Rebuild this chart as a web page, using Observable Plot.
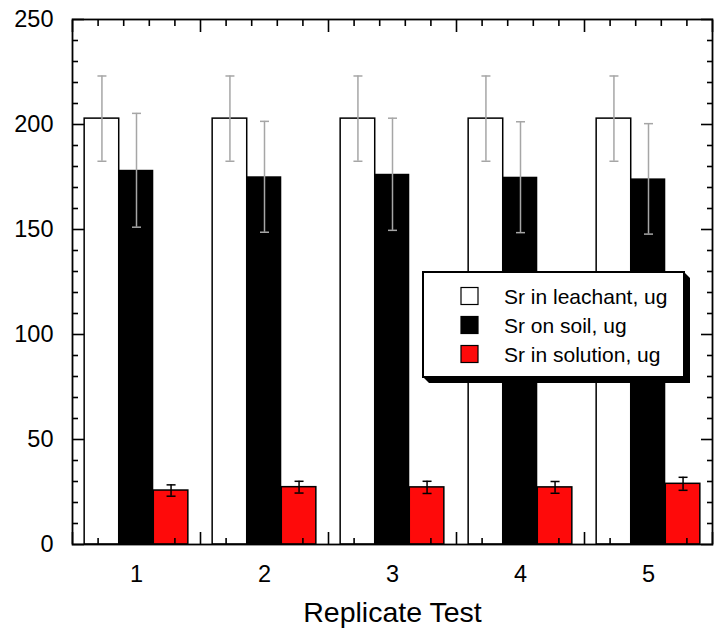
<!DOCTYPE html>
<html>
<head>
<meta charset="utf-8">
<script src="https://cdn.jsdelivr.net/npm/d3@7"></script>
<script src="https://cdn.jsdelivr.net/npm/@observablehq/plot@0.6"></script>
<style>
  html, body { margin: 0; padding: 0; background: #fff; }
  #wrap { position: relative; width: 716px; height: 635px; font-family: "Liberation Sans", Arial, sans-serif; }
  #legend { position: absolute; left: 0; top: 0; pointer-events: none; }
</style>
</head>
<body>
<div id="wrap"></div>
<script>
// ---- data ----
const replicates = [1, 2, 3, 4, 5];
const seriesNames = ["Sr in leachant, ug", "Sr on soil, ug", "Sr in solution, ug"];
const seriesFill = ["#ffffff", "#000000", "#fe0a0a"];
const errColor = ["#a6a6a6", "#a6a6a6", "#000000"];
const leachant = [202.8, 202.8, 202.8, 202.8, 202.8];
const leachantErr = [20.3, 20.3, 20.3, 20.3, 20.3];
const soil = [178.2, 175.1, 176.3, 174.9, 174.1];
const soilErr = [27.1, 26.4, 26.7, 26.4, 26.3];
const solution = [25.7, 27.3, 27.2, 27.2, 28.9];
const solutionErr = [2.7, 2.8, 2.9, 2.8, 3.1];
const yMajor = [0, 50, 100, 150, 200, 250];
const yMinor = d3.range(0, 251, 10).filter(v => v % 50 !== 0);
const xMajor = [0.5, 1.5, 2.5, 3.5, 4.5, 5.5];
const xMinor = replicates.flatMap(r => [-0.3, -0.1, 0.1, 0.3].map(o => r + o));

const values = [leachant, soil, solution];
const errs = [leachantErr, soilErr, solutionErr];
const offsets = [-0.27, 0, 0.27];
const half = 0.135;

const rows = [];
seriesNames.forEach((s, k) => {
  replicates.forEach((r, i) => {
    rows.push({series: s, k, x: r + offsets[k], v: values[k][i], e: errs[k][i]});
  });
});

const cap = {draw(ctx) { ctx.moveTo(-4.5, 0); ctx.lineTo(4.5, 0); }};

const marks = [];
seriesNames.forEach((s, k) => {
  const d = rows.filter(r => r.k === k);
  marks.push(Plot.rect(d, {x1: r => r.x - half, x2: r => r.x + half, y1: 0, y2: "v",
    fill: seriesFill[k], stroke: "#000", strokeWidth: k === 1 ? 0 : 1.5}));
});
seriesNames.forEach((s, k) => {
  const d = rows.filter(r => r.k === k);
  marks.push(Plot.ruleX(d, {x: "x", y1: r => r.v - r.e, y2: r => r.v + r.e, stroke: errColor[k], strokeWidth: 1.5}));
  marks.push(Plot.dot(d, {x: "x", y: r => r.v + r.e, symbol: cap, fill: "none", stroke: errColor[k], strokeWidth: 1.5}));
  marks.push(Plot.dot(d, {x: "x", y: r => r.v - r.e, symbol: cap, fill: "none", stroke: errColor[k], strokeWidth: 1.5}));
});

const tk = {tickFormat: () => "", label: null, strokeWidth: 1.6};
marks.push(
  Plot.frame({stroke: "#000", strokeWidth: 1.8}),
  Plot.axisY({anchor: "left", ticks: yMajor, tickSize: 12, dx: 12, ...tk}),
  Plot.axisY({anchor: "left", ticks: yMinor, tickSize: 6, dx: 6, ...tk}),
  Plot.axisY({anchor: "right", ticks: yMajor, tickSize: 12, dx: -12, ...tk}),
  Plot.axisY({anchor: "right", ticks: yMinor, tickSize: 6, dx: -6, ...tk}),
  Plot.axisX({anchor: "bottom", ticks: xMajor, tickSize: 12, dy: -12, ...tk}),
  Plot.axisX({anchor: "bottom", ticks: xMinor, tickSize: 6, dy: -6, ...tk}),
  Plot.axisX({anchor: "top", ticks: xMajor, tickSize: 12, dy: 12, ...tk}),
  Plot.axisX({anchor: "top", ticks: xMinor, tickSize: 6, dy: 6, ...tk}),
  Plot.axisY({anchor: "left", ticks: yMajor, tickSize: 0, tickPadding: 19, fontSize: 23.5, label: null, fill: "#000"}),
  Plot.axisX({anchor: "bottom", ticks: replicates, tickSize: 0, tickPadding: 21, fontSize: 23.5, label: null, tickFormat: d => String(d), fill: "#000"}),
  Plot.text(["Replicate Test"], {frameAnchor: "bottom", dy: 68.5, lineAnchor: "middle", fontSize: 28.5, fill: "#000"})
);

const chart = Plot.plot({
  width: 716,
  height: 635,
  marginLeft: 72,
  marginRight: 4,
  marginTop: 19,
  marginBottom: 91,
  style: {fontFamily: '"Liberation Sans", Arial, sans-serif', background: "#fff", color: "#000"},
  x: {type: "linear", domain: [0.5, 5.5]},
  y: {domain: [0, 250]},
  marks
});
const wrap = document.getElementById("wrap");
wrap.appendChild(chart);

// ---- legend overlay (inside plot area) ----
const ns = "http://www.w3.org/2000/svg";
const leg = document.createElementNS(ns, "svg");
leg.setAttribute("id", "legend");
leg.setAttribute("width", 716);
leg.setAttribute("height", 635);
const L = 423, T = 272, R = 684, B = 377, S = 6;
const mk = (tag, attrs) => { const e = document.createElementNS(ns, tag); for (const k in attrs) e.setAttribute(k, attrs[k]); leg.appendChild(e); return e; };
mk("polygon", {points: `${R},${T} ${R + S},${T + S} ${R + S},${B + S} ${L + S},${B + S} ${L},${B}`, fill: "#000"});
mk("rect", {x: L, y: T, width: R - L, height: B - T, fill: "#fff", stroke: "#000", "stroke-width": 2});
seriesNames.forEach((s, k) => {
  const cy = 296 + k * 29;
  mk("rect", {x: 461, y: cy - 8.5, width: 17, height: 17, fill: seriesFill[k], stroke: "#000", "stroke-width": 1.2});
  const t = mk("text", {x: 504, y: cy, "dominant-baseline": "central", "font-size": 21, "font-family": '"Liberation Sans", Arial, sans-serif', fill: "#000"});
  t.textContent = s;
});
wrap.appendChild(leg);
</script>
</body>
</html>
